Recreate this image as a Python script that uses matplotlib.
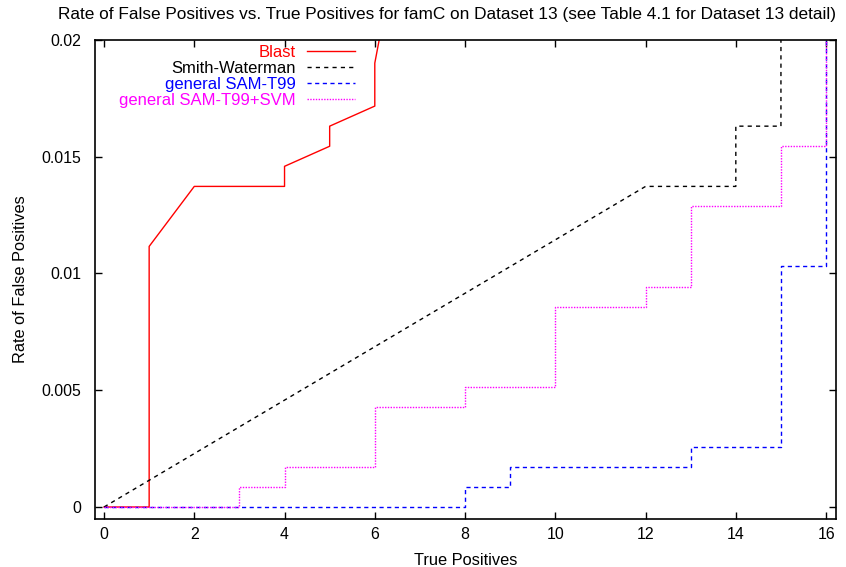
import matplotlib
matplotlib.use('Agg')
import matplotlib.pyplot as plt

plt.rcParams['font.family'] = ['Liberation Sans', 'DejaVu Sans']

# Blast
blast_x = [0, 1, 1, 2, 4, 4, 5, 5, 6, 6, 7]
blast_y = [0, 0, 0.01116, 0.01373, 0.01373, 0.01459, 0.01545, 0.01631, 0.01717, 0.01901, 0.0292]

# Smith-Waterman
sw_x = [0, 12, 14, 14, 15, 15]
sw_y = [0, 0.01373, 0.01373, 0.01631, 0.01631, 0.0215]

# general SAM-T99
sam_x = [0, 8, 8, 9, 9, 13, 13, 15, 15, 16, 16]
sam_y = [0, 0, 0.00086, 0.00086, 0.00172, 0.00172, 0.00258, 0.00258, 0.0103, 0.0103, 0.0215]

# general SAM-T99+SVM
svm_x = [0, 3, 3, 4, 4, 6, 6, 8, 8, 10, 10, 12, 12, 13, 13, 15, 15, 16, 16]
svm_y = [0, 0, 0.00086, 0.00086, 0.00172, 0.00172, 0.00429, 0.00429, 0.00515,
         0.00515, 0.00858, 0.00858, 0.00944, 0.00944, 0.01288, 0.01288, 0.01545, 0.01545, 0.0215]

x_ticks = [0, 2, 4, 6, 8, 10, 12, 14, 16]
y_ticks = [0, 0.005, 0.01, 0.015, 0.02]
y_tick_labels = ['0', '0.005', '0.01', '0.015', '0.02']

fig = plt.figure(figsize=(8.46, 5.67), dpi=100)
ax = fig.add_axes([95 / 846, 1 - 519 / 567, 741 / 846, 479 / 567])

ax.plot(blast_x, blast_y, color='#ff0000', lw=1.0, label='Blast')
ax.plot(sw_x, sw_y, color='black', lw=1.0, dashes=(3, 3), label='Smith-Waterman')
ax.plot(sam_x, sam_y, color='#0000ff', lw=1.0, dashes=(3, 2.5), label='general SAM-T99')
ax.plot(svm_x, svm_y, color='#ff00ff', lw=1.0, dashes=(1, 1), label='general SAM-T99+SVM')

ax.set_xlim(-0.2, 16.22)
ax.set_ylim(-0.000514, 0.02)
ax.set_xticks(x_ticks)
ax.set_yticks(y_ticks)
ax.set_yticklabels(y_tick_labels)
ax.tick_params(direction='in', length=5, width=1, top=True, right=True, labelsize=11.4, pad=10)
ax.tick_params(axis='x', pad=6)
for s in ax.spines.values():
    s.set_linewidth(1.2)

ax.set_xlabel('True Positives', fontsize=11.8, labelpad=7.5)
ax.set_ylabel('Rate of False Positives', fontsize=11.8, labelpad=9.5)
fig.text(447 / 846, 1 - 14 / 567, 'Rate of False Positives vs. True Positives for famC on Dataset 13 (see Table 4.1 for Dataset 13 detail)',
         ha='center', va='center', fontsize=12.4)

leg = ax.legend(loc='upper right', bbox_to_anchor=(0.351, 0.990), frameon=False, markerfirst=False,
                labelcolor='linecolor', fontsize=12, handlelength=2.9, handletextpad=0.65,
                labelspacing=0.07, borderpad=0, borderaxespad=0)

fig.savefig('out.png', dpi=100)
